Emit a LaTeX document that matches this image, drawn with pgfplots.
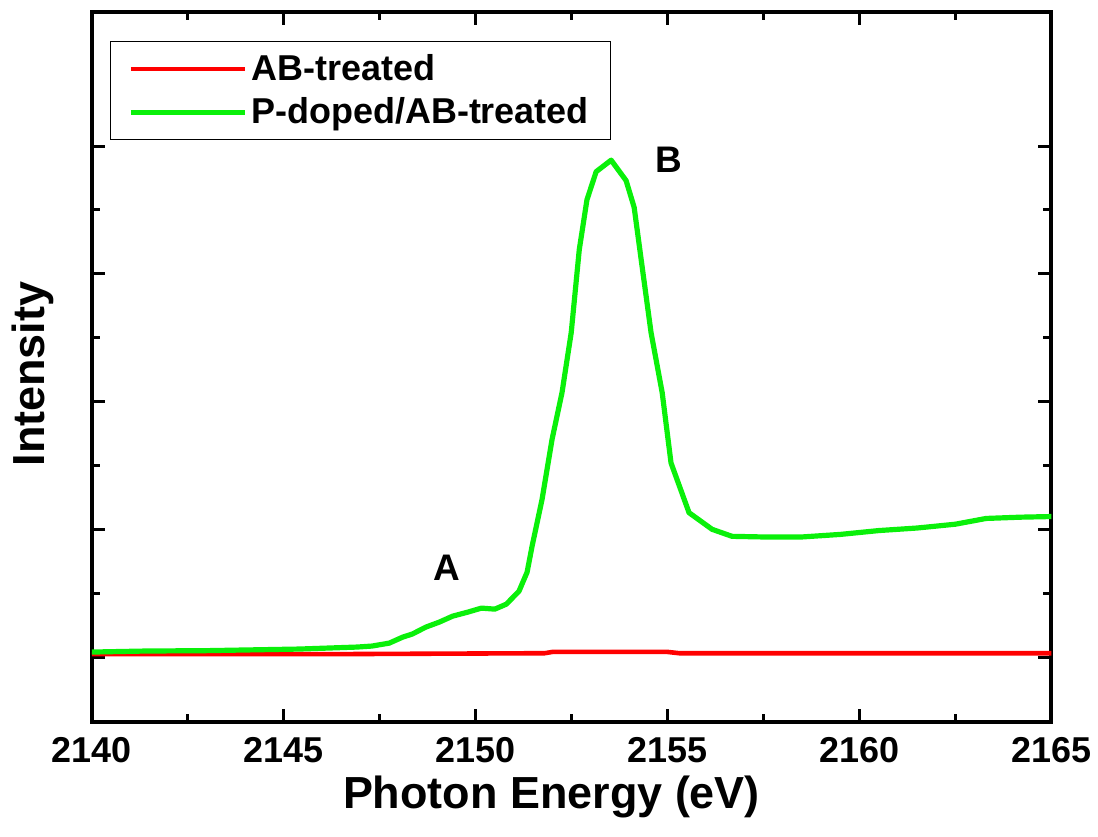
\documentclass[border=0pt]{standalone}
\usepackage{fontspec}
\setmainfont{Liberation Sans}
\usepackage{pgfplots}
\pgfplotsset{compat=1.18}
\definecolor{myred}{RGB}{255,0,0}
\definecolor{mygreen}{RGB}{10,240,10}
\begin{document}
\begin{tikzpicture}
\begin{axis}[
  scale only axis,
  width=480.5bp, height=355.5bp,
  xmin=2140, xmax=2165, ymin=-0.508, ymax=5.05,
  xtick={2140,2145,...,2165},
  minor x tick num=1,
  ytick={0,1,2,3,4},
  minor y tick num=1,
  yticklabels={},
  tick align=inside,
  xtick pos=both, ytick pos=both,
  xticklabel pos=bottom,
  major tick length=6.5bp, minor tick length=4bp,
  axis line style={line width=2bp},
  every tick/.style={black, line width=1.5bp},
  ticklabel style={font=\fontsize{18bp}{20bp}\selectfont\bfseries},
  /pgf/number format/assume math mode=true,
  /pgf/number format/1000 sep={},
  xticklabel style={yshift=-4bp},
  xlabel={Photon Energy (eV)},
  ylabel={Intensity},
  label style={font=\fontsize{22.5bp}{25bp}\selectfont\bfseries},
  xlabel style={at={(axis description cs:0.479,-0.106)}, anchor=center},
  ylabel style={at={(axis description cs:-0.0614,0.49)}, anchor=center},
  legend style={at={(axis description cs:0.0187,0.959)}, anchor=north west,
    draw=black, line width=0.6bp, font=\fontsize{18bp}{22.5bp}\selectfont\bfseries,
    inner xsep=9bp, inner ysep=4.5bp, row sep=3bp},
  legend cell align=left,
  legend image code/.code={\path (-9.5bp,0bp) -- (47.5bp,0bp);\draw[#1,line width=2.3bp] (0bp,0bp) -- (45bp,0bp);},
]
\coordinate (bbl) at (axis description cs:-0.0957,-0.1617);
\coordinate (btr) at (axis description cs:1.0468,1.0169);
\addplot[myred, line width=2.3bp] coordinates {
(2140,0.023) (2146.5,0.023) (2151.8,0.03) (2152.0,0.04) (2155.0,0.04) (2155.3,0.03) (2165,0.03)
};
\addlegendentry{AB-treated}
\addplot[mygreen, line width=2.6bp, line join=round] coordinates {
(2140.0,0.039) (2141.4,0.047) (2143.0,0.05) (2145.4,0.0625) (2146.9,0.078) (2147.3,0.086)
(2147.75,0.109) (2148.1,0.156) (2148.35,0.18) (2148.7,0.234) (2149.05,0.273) (2149.4,0.32)
(2149.8,0.352) (2150.15,0.383) (2150.5,0.375) (2150.8,0.414) (2151.13,0.516) (2151.34,0.664)
(2151.47,0.867) (2151.73,1.234) (2151.99,1.703) (2152.25,2.07) (2152.49,2.54) (2152.70,3.19)
(2152.90,3.58) (2153.14,3.80) (2153.53,3.89) (2153.92,3.73) (2154.13,3.52) (2154.34,3.05)
(2154.57,2.54) (2154.86,2.07) (2155.09,1.52) (2155.56,1.13) (2156.16,1.0) (2156.68,0.945)
(2157.5,0.94) (2158.5,0.94) (2159.5,0.96) (2160.5,0.99) (2161.5,1.01) (2162.5,1.04)
(2163.3,1.085) (2164.2,1.095) (2165,1.10)
};
\addlegendentry{P-doped/AB-treated}
\node[font=\fontsize{18.5bp}{20bp}\selectfont\bfseries] at (axis cs:2149.26,0.70) {A};
\node[font=\fontsize{18.5bp}{20bp}\selectfont\bfseries] at (axis cs:2155.04,3.89) {B};
\end{axis}
\path (bbl) rectangle (btr);
\end{tikzpicture}
\end{document}
